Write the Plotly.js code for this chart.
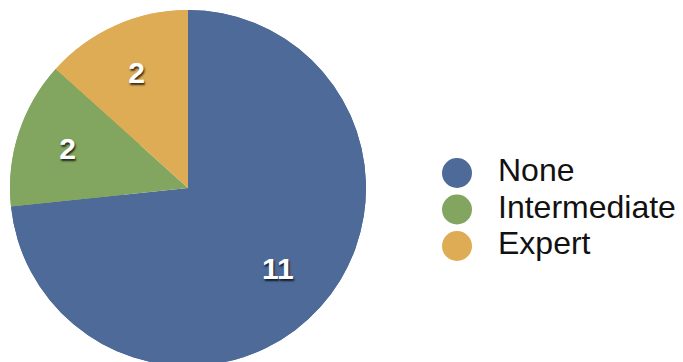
<!DOCTYPE html>
<html>
<head>
<meta charset="utf-8">
<script src="https://cdn.plot.ly/plotly-3.0.1.min.js"></script>
<style>
html, body { margin: 0; padding: 0; overflow: hidden; background: #fff; }
#chart { width: 683px; height: 376px; }
</style>
</head>
<body>
<div id="chart"></div>
<script>
// Data
var categories = ['None', 'Intermediate', 'Expert'];
var counts = [11, 2, 2];
var colors = ['#4d6a98', '#82a55f', '#ddac54'];

var W = 683, H = 376;
var pieDomain = { x: [10 / W, 366 / W], y: [1 - 366 / H, 1 - 10 / H] };

// Full pie (slices)
var pieBase = {
  type: 'pie',
  labels: categories,
  values: counts,
  sort: false,
  direction: 'clockwise',
  rotation: 0,
  textinfo: 'none',
  hoverinfo: 'label+value',
  marker: { colors: colors, line: { width: 0 } },
  domain: pieDomain,
  showlegend: false
};

// Same pie as a ring on top, so value labels sit in the outer part of each slice
var pieLabels = {
  type: 'pie',
  labels: categories,
  values: counts,
  sort: false,
  direction: 'clockwise',
  rotation: 0,
  hole: 0.36,
  textinfo: 'value',
  textposition: 'inside',
  insidetextorientation: 'horizontal',
  hoverinfo: 'label+value',
  marker: { colors: colors, line: { width: 0 } },
  insidetextfont: {
    family: 'Liberation Sans, Arial, sans-serif',
    size: 30,
    weight: 'bold',
    color: '#ffffff',
    shadow: '1px 2px 2px rgba(0,0,0,0.75)'
  },
  domain: pieDomain,
  showlegend: false
};

// Legend built from the same category/color arrays
var legendMarkers = {
  type: 'scatter',
  mode: 'markers',
  x: categories.map(function () { return 0; }),
  y: categories,
  marker: { size: 30, color: colors, line: { width: 0 } },
  xaxis: 'x', yaxis: 'y',
  hoverinfo: 'skip',
  showlegend: false,
  cliponaxis: false
};
var legendText = {
  type: 'scatter',
  mode: 'text',
  x: categories.map(function () { return 41; }),
  y: categories,
  text: categories,
  textposition: 'middle right',
  textfont: { family: 'Liberation Sans, Arial, sans-serif', size: 32, color: '#111111' },
  xaxis: 'x', yaxis: 'y',
  hoverinfo: 'skip',
  showlegend: false,
  cliponaxis: false
};

var legTop = 209.5 - 54.75, legBot = 209.5 + 54.75;

var layout = {
  width: W,
  height: H,
  margin: { l: 0, r: 0, t: 0, b: 0, pad: 0 },
  paper_bgcolor: '#ffffff',
  plot_bgcolor: 'rgba(0,0,0,0)',
  showlegend: false,
  xaxis: {
    domain: [457 / W, 1],
    range: [0, W - 457],
    visible: false,
    fixedrange: true
  },
  yaxis: {
    domain: [1 - legBot / H, 1 - legTop / H],
    type: 'category',
    range: [2.5, -0.5],
    visible: false,
    fixedrange: true
  }
};

Plotly.newPlot('chart', [pieBase, pieLabels, legendMarkers, legendText], layout, { displayModeBar: false, staticPlot: true });
</script>
</body>
</html>
